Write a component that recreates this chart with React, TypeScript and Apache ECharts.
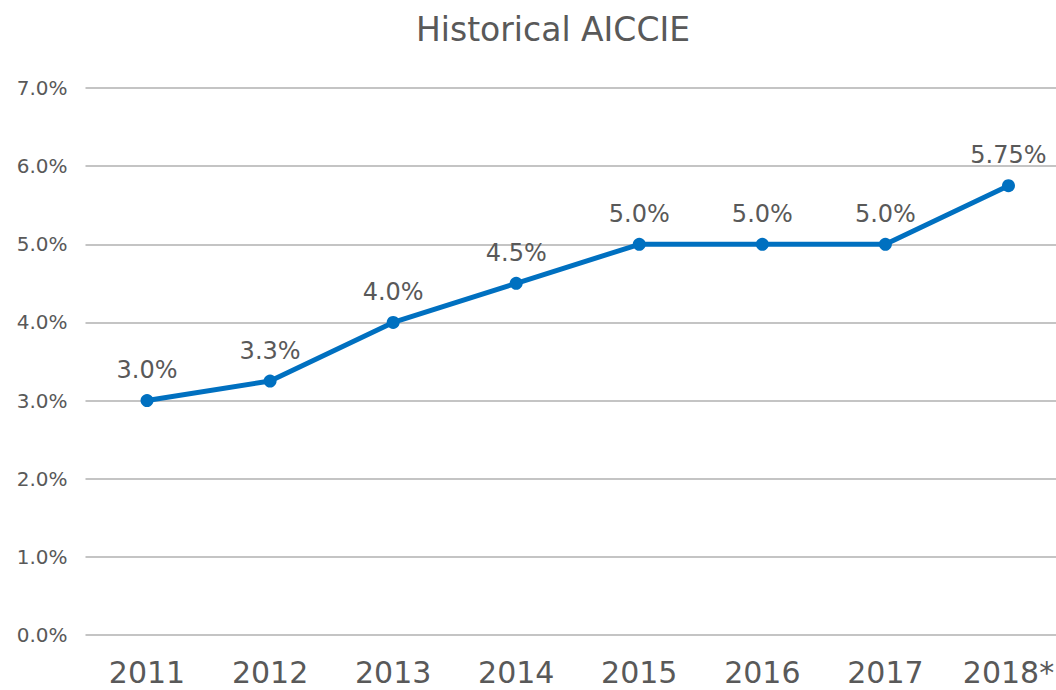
import React, { useEffect, useRef } from "react";
import * as echarts from "echarts";

const categories = ["2011", "2012", "2013", "2014", "2015", "2016", "2017", "2018*"];
const values = [3.0, 3.25, 4.0, 4.5, 5.0, 5.0, 5.0, 5.75];
const valueLabels = ["3.0%", "3.3%", "4.0%", "4.5%", "5.0%", "5.0%", "5.0%", "5.75%"];
const titleText = "Historical AICCIE";

const FONT = "'DejaVu Sans', sans-serif";
const TEXT = "#595959";

export default function App() {
  const ref = useRef<HTMLDivElement>(null);
  useEffect(() => {
    if (!ref.current) return;
    const chart = echarts.init(ref.current, undefined, { renderer: "svg" });
    chart.setOption({
      animation: false,
      backgroundColor: "#ffffff",
      title: {
        text: titleText,
        left: 548,
        textAlign: "center",
        top: 8,
        textStyle: { fontFamily: FONT, fontSize: 33, fontWeight: "normal", color: TEXT },
      },
      grid: { left: 85.5, top: 88, right: 0, height: 547, containLabel: false },
      xAxis: {
        type: "category",
        data: categories,
        boundaryGap: true,
        axisLine: { show: false },
        axisTick: { show: false },
        axisLabel: { fontFamily: FONT, fontSize: 30, color: TEXT, margin: 22 },
      },
      yAxis: {
        type: "value",
        min: 0,
        max: 7,
        interval: 1,
        axisLine: { show: false },
        axisTick: { show: false },
        axisLabel: {
          fontFamily: FONT,
          fontSize: 20,
          color: TEXT,
          margin: 18,
          formatter: (v: number) => v.toFixed(1) + "%",
        },
        splitLine: { lineStyle: { color: "#C4C4C4", width: 2 } },
      },
      series: [
        {
          type: "line",
          data: values,
          symbol: "circle",
          symbolSize: 13,
          lineStyle: { color: "#0070C0", width: 5 },
          itemStyle: { color: "#0070C0" },
          label: {
            show: true,
            position: "top",
            distance: 12,
            fontFamily: FONT,
            fontSize: 24,
            color: TEXT,
            formatter: (p: any) => valueLabels[p.dataIndex],
          },
        },
      ],
    });
    return () => chart.dispose();
  }, []);
  return (
    <div style={{ position: "fixed", left: 0, top: 0, width: 1056, height: 690, overflow: "hidden" }}>
      <div ref={ref} style={{ position: "absolute", left: 0, top: 0, width: 1070, height: 690 }} />
    </div>
  );
}
